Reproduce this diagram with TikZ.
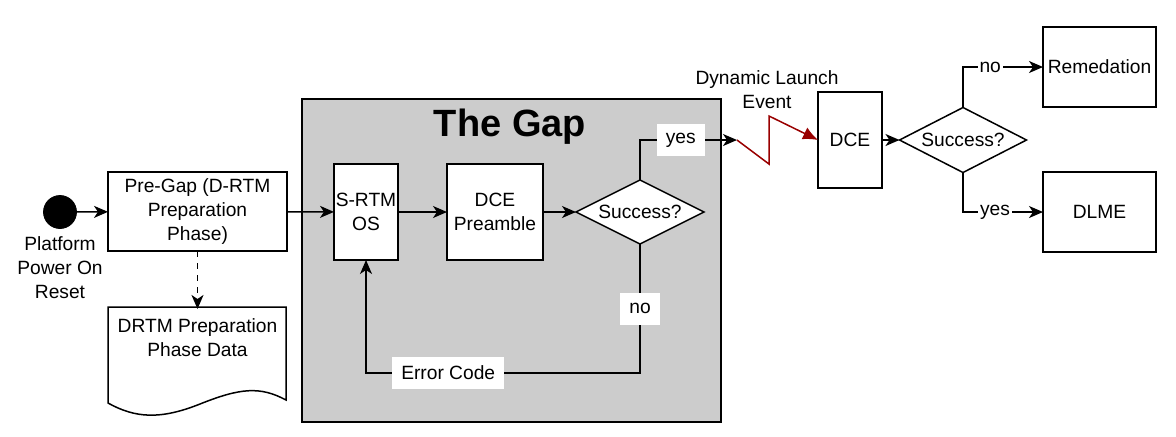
\documentclass[tikz,border=0pt]{standalone}
\usepackage{fontspec}
\setmainfont{Liberation Sans}
\usetikzlibrary{arrows.meta, backgrounds, calc, positioning, shapes.geometric}

\begin{document}
\begin{tikzpicture}[x=0.5pt,y=-0.5pt,font=\fontsize{9.6}{12}\selectfont]
\tikzset{every node/.style={inner sep=1mm, outer sep=0mm}}

\tikzstyle{stage}=[rectangle,draw=black,fill=white,line width=0.75pt,align=center,inner sep=0.5pt]
\tikzstyle{decision}=[diamond,draw=black,fill=white,line width=0.75pt,aspect=2,inner sep=0pt,minimum width=64pt,minimum height=32pt]
\tikzstyle{edge label}=[fill=white,inner xsep=4.5pt,inner ysep=0pt,minimum height=16pt]
\tikzstyle{small label}=[fill=white,inner sep=1pt]
\tikzstyle{post}=[-{Stealth[length=7pt,width=6pt,inset=2pt]}, line width=0.75pt]
\tikzstyle{launch}=[-{Latex[length=7.5pt,width=6.5pt]}, line width=0.75pt, draw={rgb,255:red,153;green,0;blue,0}, color={rgb,255:red,153;green,0;blue,0}]

\useasboundingbox (0,0) rectangle (1176,436);

% the gap
\node[rectangle,draw=black,fill=black!20,line width=0.75pt,minimum width=209.5pt,minimum height=161.5pt] (gap) at (511.5,260.5) {};
\node[font=\fontsize{19}{23}\selectfont\bfseries] (gap title) at (510,127) {The Gap};

\node[circle,fill=black,draw=black,minimum size=16.5pt,inner sep=0pt] (power on) at (60,212) {};
\node[align=center,inner sep=0pt] (power on label) at (60,268) {Platform\\Power On\\Reset};

\node[stage,minimum width=89.5pt,minimum height=39.5pt] (pregap) at (197.5,211.5) {Pre-Gap (D-RTM\\Preparation\\Phase)};

% document shape
\draw[line width=0.75pt,fill=white] (108,307) -- (286,307) -- (286,400)
    .. controls (260,386) and (240,388) .. (200,404)
    .. controls (160,420) and (135,418) .. (108,403) -- cycle;
\node[align=center,inner xsep=0pt,inner ysep=5pt] (prep data) at (197.5,338) {DRTM Preparation\\Phase Data};

\node[stage,minimum width=32pt,minimum height=48pt] (srtm) at (366,212) {S-RTM\\OS};
\node[stage,minimum width=48pt,minimum height=48pt] (preamble) at (495,212) {DCE\\Preamble};
\node[decision] (gap check) at (640,212) {Success?};

\coordinate (launch start) at (737,140);
\node[stage,minimum width=32pt,minimum height=48pt] (dce) at (850,140) {DCE};
\node[align=center,inner sep=0pt] (launch label) at (767,90) {Dynamic Launch\\Event};
\node[decision,minimum width=63.5pt,minimum height=32.5pt] (dce check) at (963,140) {Success?};

\node[stage,minimum width=56.5pt,minimum height=40pt] (remedation) at (1099.5,67) {Remedation};
\node[stage,minimum width=56.5pt,minimum height=40pt] (dlme) at (1099.5,212) {DLME};

\draw[post] (power on) -- (pregap);
\draw[post,dashed] (pregap.south) -- (prep data.north);
\draw[post] (pregap) -- (srtm);
\draw[post] (srtm) -- (preamble);
\draw[post] (preamble) -- (gap check);

\draw[post] (gap check.north) |- node[edge label,pos=0.71] {yes} (launch start);
\draw[post] (gap check.south) -- node[edge label,pos=0.5] {no} ++(0,129) -| node[edge label,pos=0.35] {Error Code} (srtm.south);

\draw[launch] (launch start) -- ++(32,24) -- ++(0,-48) -- (dce.west);

\draw[post] (dce) -- (dce check);
\draw[post] (dce check.north) |- node[small label,pos=0.67] {no} (remedation.west);
\draw[post] (dce check.south) |- node[small label,pos=0.7] {yes} (dlme.west);

\end{tikzpicture}
\end{document}
